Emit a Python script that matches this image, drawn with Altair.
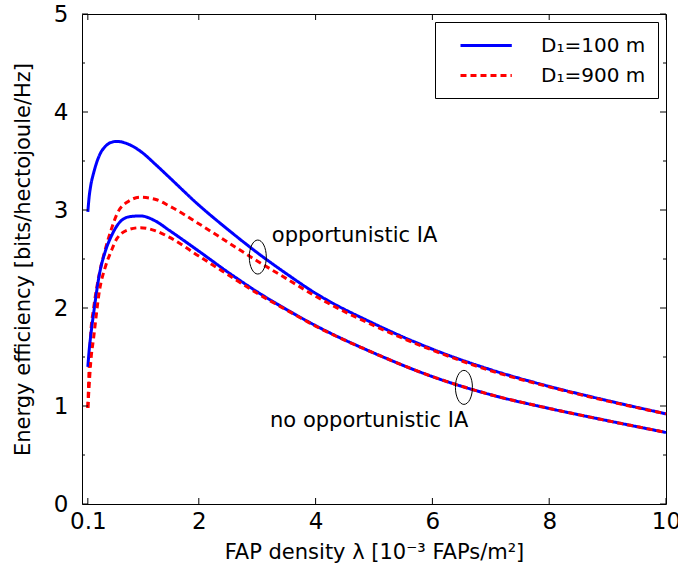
import altair as alt
import pandas as pd

# ---------------- data ----------------
lam = [0.1, 0.12, 0.15, 0.2, 0.3, 0.4, 0.5, 0.6, 0.8, 1.0, 1.25, 1.5,
       2.0, 2.5, 3.0, 3.5, 4.0, 5.0, 6.0, 7.0, 8.0, 9.0, 10.0]

opp_d100 = [2.98, 3.12, 3.25, 3.38, 3.56, 3.65, 3.69, 3.70, 3.67, 3.60, 3.47, 3.33,
            3.05, 2.80, 2.565, 2.35, 2.15, 1.84, 1.58, 1.37, 1.20, 1.055, 0.92]
opp_d900 = [0.98, 1.35, 1.74, 2.00, 2.36, 2.60, 2.80, 2.96, 3.09, 3.13, 3.11, 3.04,
            2.86, 2.67, 2.48, 2.30, 2.12, 1.82, 1.57, 1.36, 1.195, 1.05, 0.92]
noopp_d100 = [1.40, 1.55, 1.72, 1.95, 2.35, 2.58, 2.73, 2.84, 2.93, 2.94, 2.89, 2.79,
              2.58, 2.365, 2.165, 1.985, 1.82, 1.54, 1.30, 1.115, 0.975, 0.85, 0.73]
noopp_d900 = [0.98, 1.18, 1.45, 1.70, 2.18, 2.42, 2.58, 2.71, 2.80, 2.82, 2.79, 2.72,
              2.53, 2.34, 2.15, 1.98, 1.815, 1.54, 1.30, 1.115, 0.975, 0.85, 0.73]

series_labels = ["D\u2081=100 m", "D\u2081=900 m"]

x_ticks = [0.1, 2, 4, 6, 8, 10]
y_ticks = [0, 1, 2, 3, 4, 5]
y_minor = [0.5, 1.5, 2.5, 3.5, 4.5]

ann_text = ["opportunistic IA", "no opportunistic IA"]
ann_x = [3.25, 3.22]
ann_y = [2.73, 0.85]

ell_x = [3.01, 6.54]
ell_y = [2.52, 1.19]

# ---------------- frames ----------------
rows = []
for curve, s, ys in [("opp", series_labels[0], opp_d100),
                     ("opp", series_labels[1], opp_d900),
                     ("noopp", series_labels[0], noopp_d100),
                     ("noopp", series_labels[1], noopp_d900)]:
    for xv, yv in zip(lam, ys):
        rows.append({"lam": xv, "ee": yv, "series": s, "curve": curve})
df = pd.DataFrame(rows)

W, H = 584, 490
FONT = "DejaVu Sans"

xscale = alt.Scale(domain=[0, 10], nice=False, zero=False)
yscale = alt.Scale(domain=[0, 5], nice=False)

lines = alt.Chart(df).mark_line(strokeWidth=3, interpolate="monotone").encode(
    x=alt.X("lam:Q", scale=xscale,
            axis=alt.Axis(values=x_ticks, labelExpr="datum.value == 0.1 ? '0.1' : format(datum.value, 'd')",
                          title="FAP density \u03bb [10\u207b\u00b3 FAPs/m\u00b2]",
                          ticks=False, tickSize=0, domain=False, grid=False,
                          labelFontSize=23, labelPadding=6, titleFontSize=21,
                          titlePadding=8, labelFlush=False)),
    y=alt.Y("ee:Q", scale=yscale,
            axis=alt.Axis(values=y_ticks, format="d", title="Energy efficiency [bits/hectojoule/Hz]",
                          ticks=False, tickSize=0, domain=False, grid=False,
                          labelFontSize=23, labelPadding=14, titleFontSize=21,
                          titlePadding=20)),
    color=alt.Color("series:N", scale=alt.Scale(domain=series_labels, range=["#0000ff", "#ff0000"]),
                    legend=alt.Legend(title=None)),
    strokeDash=alt.StrokeDash("series:N", scale=alt.Scale(domain=series_labels, range=[[1, 0], [6, 4]]),
                              legend=alt.Legend(title=None)),
    detail="curve:N",
)

xt = pd.DataFrame({"v": x_ticks})
yt = pd.DataFrame({"v": y_ticks})
ym = pd.DataFrame({"v": y_minor})
TL, TM = 6, 3

tick_layers = [
    alt.Chart(xt).mark_rule(color="black", strokeWidth=1).encode(x=alt.X("v:Q", scale=xscale), y=alt.value(H), y2=alt.value(H - TL)),
    alt.Chart(xt).mark_rule(color="black", strokeWidth=1).encode(x=alt.X("v:Q", scale=xscale), y=alt.value(0), y2=alt.value(TL)),
    alt.Chart(yt).mark_rule(color="black", strokeWidth=1).encode(y=alt.Y("v:Q", scale=yscale), x=alt.value(0), x2=alt.value(TL)),
    alt.Chart(yt).mark_rule(color="black", strokeWidth=1).encode(y=alt.Y("v:Q", scale=yscale), x=alt.value(W), x2=alt.value(W - TL)),
    alt.Chart(ym).mark_rule(color="black", strokeWidth=1).encode(y=alt.Y("v:Q", scale=yscale), x=alt.value(0), x2=alt.value(TM)),
    alt.Chart(ym).mark_rule(color="black", strokeWidth=1).encode(y=alt.Y("v:Q", scale=yscale), x=alt.value(W), x2=alt.value(W - TM)),
]

ann = alt.Chart(pd.DataFrame({"x": ann_x, "y": ann_y, "t": ann_text})).mark_text(
    align="left", baseline="middle", fontSize=21, font=FONT, color="black").encode(
    x=alt.X("x:Q", scale=xscale), y=alt.Y("y:Q", scale=yscale), text="t:N")

ellipse_path = "M -0.5 0 A 0.5 1 0 1 0 0.5 0 A 0.5 1 0 1 0 -0.5 0 Z"
ells = alt.Chart(pd.DataFrame({"x": ell_x, "y": ell_y})).mark_point(
    shape=ellipse_path, size=1156, filled=False, stroke="black", strokeWidth=1, opacity=1).encode(
    x=alt.X("x:Q", scale=xscale), y=alt.Y("y:Q", scale=yscale))

legend_line = "M 0.2 0 L 5.33 0"

chart = alt.layer(lines, *tick_layers, ells, ann).properties(
    width=W, height=H,
    autosize=alt.AutoSizeParams(type="none"),
    padding={"left": 82, "top": 14, "right": 12, "bottom": 68},
).configure_view(stroke="black", strokeWidth=1).configure_axis(
    labelFont=FONT, titleFont=FONT, labelColor="black", titleColor="black",
    titleFontWeight="normal",
).configure_legend(
    orient="top-right", offset=8, strokeColor="black", fillColor="white",
    padding=12, labelFont=FONT, labelFontSize=20, labelColor="black",
    symbolType=legend_line, symbolSize=400, symbolStrokeWidth=3,
    labelOffset=71, rowPadding=8, cornerRadius=0,
)

chart.save("out.html", embed_options={"renderer": "svg", "actions": False})
